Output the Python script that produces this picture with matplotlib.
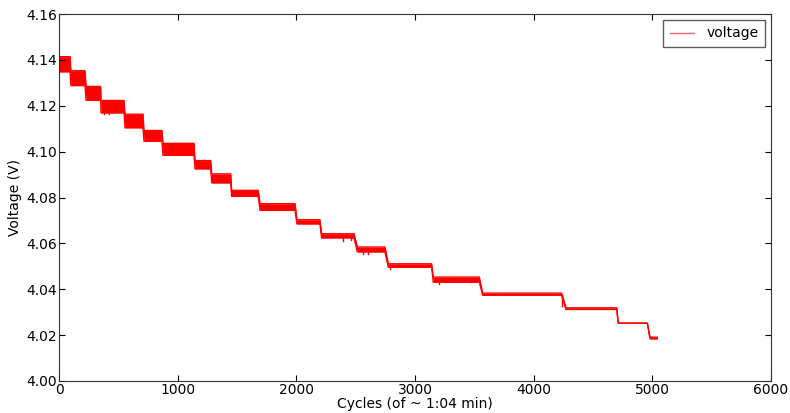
import matplotlib
matplotlib.use("Agg")
import matplotlib.pyplot as plt
from matplotlib.lines import Line2D

# plateau segments: start/end cycle, top and bottom of the band (V)
seg_start = [0, 100, 228, 354, 556, 716, 876, 1146, 1287, 1455,
             1694, 2005, 2213, 2514, 2775, 3154, 3570, 4272, 4713, 4980]
seg_end = [93, 219, 351, 548, 708, 868, 1138, 1278, 1447, 1679,
           1989, 2199, 2486, 2747, 3140, 3542, 4236, 4700, 4958, 5042]
seg_hi = [4.1414, 4.1353, 4.1284, 4.1223, 4.1163, 4.1092, 4.1036, 4.0961, 4.0903, 4.0831,
          4.0773, 4.0703, 4.0642, 4.0584, 4.0511, 4.0453, 4.0383, 4.0319, 4.0252, 4.0191]
seg_lo = [4.1348, 4.1288, 4.1224, 4.1169, 4.1104, 4.1045, 4.0984, 4.0925, 4.0864, 4.0805,
          4.0744, 4.0685, 4.0624, 4.0563, 4.0496, 4.0431, 4.0374, 4.0312, 4.0252, 4.0184]

# occasional single-sample dips below a plateau
dip_cycle = [380, 420, 2395, 2460, 2560, 2600, 2790, 3200, 3470, 4240]
dip_volt = [4.1163, 4.1162, 4.0612, 4.0613, 4.0552, 4.0555, 4.0488, 4.0425, 4.0440, 4.0327]

plt.rcParams['font.family'] = 'DejaVu Sans'
plt.rcParams['font.size'] = 10

fig = plt.figure(figsize=(7.9, 4.13), dpi=100)
fig.patch.set_facecolor('white')
ax = fig.add_axes([59 / 790, 32 / 413, 712 / 790, 367 / 413])

xs, hi, lo = [], [], []
for s, e, h, l in zip(seg_start, seg_end, seg_hi, seg_lo):
    xs += [s, e]
    hi += [h, h]
    lo += [l, l]

ax.fill_between(xs, lo, hi, color='red', linewidth=0)
ax.plot(xs, hi, color='red', lw=1)
ax.plot(xs, lo, color='red', lw=1)

for c, v in zip(dip_cycle, dip_volt):
    i = max(k for k in range(len(seg_start)) if seg_start[k] <= c)
    ax.plot([c, c], [seg_lo[i], v], color='red', lw=1)

ax.set_xlim(0, 6000)
ax.set_ylim(4.00, 4.16)
ax.set_yticks([4.00, 4.02, 4.04, 4.06, 4.08, 4.10, 4.12, 4.14, 4.16])
ax.set_yticklabels(['%.2f' % v for v in ax.get_yticks()])
ax.tick_params(direction='in', top=True, right=True, length=4, pad=1.5)
for sp in ax.spines.values():
    sp.set_color('#333333')

ax.set_xlabel('Cycles (of ~ 1:04 min)', labelpad=0)
ax.set_ylabel('Voltage (V)', labelpad=3)

handle = Line2D([], [], color='red', lw=1, alpha=0.6)
leg = ax.legend([handle], ['voltage'], loc='upper right', fancybox=False,
                borderaxespad=0.4, handlelength=1.7, handletextpad=0.9,
                borderpad=0.5, fontsize=10)
leg.get_frame().set_edgecolor('#333333')

plt.savefig('out.png', dpi=100, facecolor='white')
